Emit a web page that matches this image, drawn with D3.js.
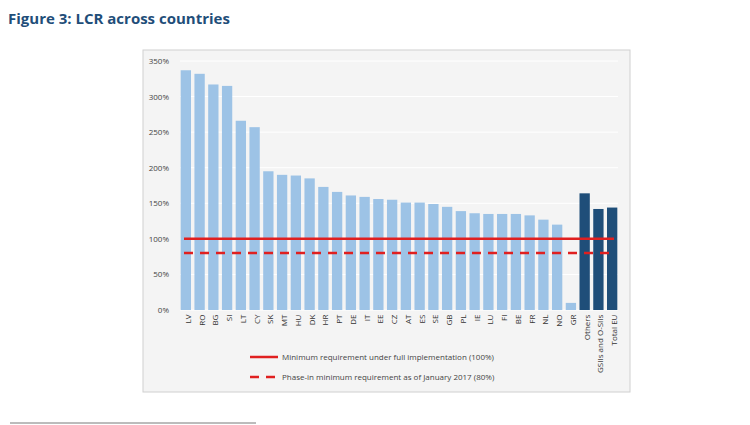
<!DOCTYPE html>
<html><head><meta charset="utf-8">
<script src="https://cdn.jsdelivr.net/npm/d3@7"></script>
<style>body{margin:0;background:#fff;font-family:"Open Sans",sans-serif;}</style>
</head><body><svg id="c" width="750" height="425"></svg>
<script>
var categories = ["LV","RO","BG","SI","LT","CY","SK","MT","HU","DK","HR","PT","DE","IT","EE","CZ","AT","ES","SE","GB","PL","IE","LU","FI","BE","FR","NL","NO","GR","Others","GSIIs and O-SIIs","Total EU"];
var values = [337,332,317,315,266,257,195,190,189,185,173,166,161,159,156,155,151,151,149,145,139,136,135,135,135,133,127,120,10,164,142,144];
var aggregates = ["Others","GSIIs and O-SIIs","Total EU"];
var yTicks = [0,50,100,150,200,250,300,350];
var fullReq = 100, phaseReq = 80;

var svg = d3.select('#c');
svg.append('text').attr('x', 8).attr('y', 24)
	.attr('font-size', 15).attr('font-weight', 'bold').attr('fill', '#1f4e79')
	.text('Figure 3: LCR across countries');

svg.append('rect').attr('x', 143).attr('y', 50).attr('width', 487).attr('height', 342)
	.attr('fill', '#f4f4f4').attr('stroke', '#d0d0d0');

svg.append('line').attr('x1', 10).attr('x2', 256).attr('y1', 423).attr('y2', 423)
	.attr('stroke', '#555').attr('stroke-width', 0.8);

var x = d3.scaleBand().domain(categories).range([180, 618]).paddingInner(0.25).paddingOuter(0.05);
var y = d3.scaleLinear().domain([0, 350]).range([310, 61]);

var g = svg.append('g');
g.selectAll('.grid').data(yTicks).enter().append('line')
	.attr('x1', 180).attr('x2', 618)
	.attr('y1', d => y(d)).attr('y2', d => y(d))
	.attr('stroke', '#ffffff').attr('stroke-width', 1);

g.selectAll('.bar').data(categories).enter().append('rect')
	.attr('x', d => x(d)).attr('width', x.bandwidth())
	.attr('y', (d, i) => y(values[i]))
	.attr('height', (d, i) => y(0) - y(values[i]))
	.attr('fill', d => aggregates.indexOf(d) >= 0 ? '#1f4e79' : '#9dc3e6');

var yAxis = svg.append('g').attr('transform', 'translate(172,0)')
	.call(d3.axisLeft(y).tickValues(yTicks).tickFormat(d => d + '%').tickSize(0));
yAxis.select('.domain').remove();
yAxis.selectAll('text').attr('font-size', 8).attr('fill', '#444').attr('font-family', 'Open Sans');

var xAxis = svg.append('g').attr('transform', 'translate(0,313)')
	.call(d3.axisBottom(x).tickSize(0));
xAxis.select('.domain').remove();
xAxis.selectAll('text').attr('font-size', 8).attr('fill', '#333').attr('font-family', 'Open Sans')
	.attr('transform', 'rotate(-90)').attr('text-anchor', 'end')
	.attr('dx', '-0.2em').attr('dy', '-0.3em').attr('x', 0).attr('y', 0)
	.style('dominant-baseline', 'middle');
xAxis.selectAll('.tick text').attr('dy', '0.35em');

svg.append('line').attr('x1', 184).attr('x2', 614).attr('y1', y(fullReq)).attr('y2', y(fullReq))
	.attr('stroke', '#e02020').attr('stroke-width', 2.5);
svg.append('line').attr('x1', 184).attr('x2', 614).attr('y1', y(phaseReq)).attr('y2', y(phaseReq))
	.attr('stroke', '#e02020').attr('stroke-width', 2.5).attr('stroke-dasharray', '9,7');

var legend = [
	{label: 'Minimum requirement under full implementation (100%)', dash: null, y: 357},
	{label: 'Phase-in minimum requirement as of January 2017 (80%)', dash: '9,7', y: 377}
];
var lg = svg.selectAll('.lg').data(legend).enter().append('g');
lg.append('line').attr('x1', 250).attr('x2', 278).attr('y1', d => d.y).attr('y2', d => d.y)
	.attr('stroke', '#e02020').attr('stroke-width', 2.5).attr('stroke-dasharray', d => d.dash);
lg.append('text').attr('x', 282).attr('y', d => d.y + 3).attr('font-size', 8).attr('fill', '#444')
	.text(d => d.label);
</script></body></html>
